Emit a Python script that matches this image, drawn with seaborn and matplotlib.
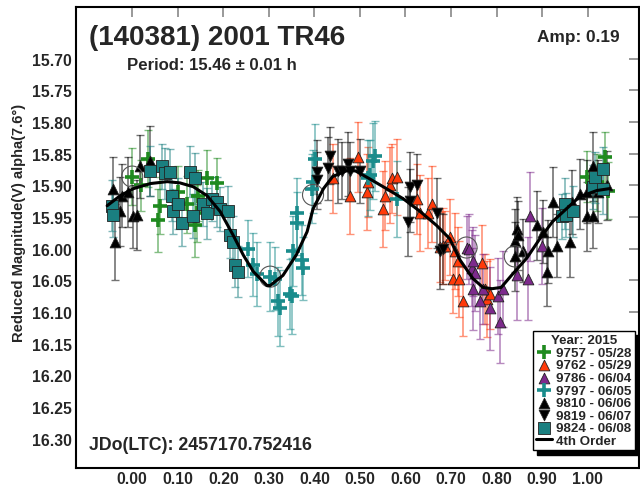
# Lightcurve of (140381) 2001 TR46 - phased reduced magnitudes with 4th order fit

import numpy as np
import pandas as pd
import seaborn as sns
import matplotlib.pyplot as plt

# --- data --------------------------------------------------------------
# 9757 - 05/28 (green plus)
ph_9757 = [0.000, 0.020, 0.035, 0.057, 0.061, 0.100, 0.120, 0.138, 0.143, 0.145,
           0.164, 0.186, 0.998, 1.020, 1.037, 1.044]
mag_9757 = [15.886, 15.900, 15.858, 15.955, 15.932, 15.910, 15.930, 15.963, 15.944, 15.916,
            15.889, 15.896, 15.886, 15.895, 15.855, 15.908]
err_9757 = [0.045, 0.040, 0.045, 0.050, 0.045, 0.040, 0.045, 0.050, 0.045, 0.040,
            0.045, 0.040, 0.040, 0.045, 0.040, 0.045]

# 9762 - 05/29 (red triangle)
ph_9762 = [0.441, 0.478, 0.496, 0.515, 0.518, 0.550, 0.555, 0.566, 0.570, 0.581,
           0.625, 0.632, 0.649, 0.658, 0.675, 0.682, 0.686, 0.697, 0.704, 0.708,
           0.715, 0.718, 0.726, 0.768, 0.774, 0.778, 0.785]
mag_9762 = [15.889, 15.916, 15.855, 15.910, 15.895, 15.937, 15.916, 15.900, 15.889, 15.886,
            15.921, 15.944, 15.944, 15.929, 15.997, 15.995, 15.995, 15.981, 16.047, 16.004,
            16.020, 16.047, 16.083, 16.023, 16.063, 16.079, 16.071]
err_9762 = [0.055, 0.060, 0.055, 0.060, 0.055, 0.060, 0.055, 0.060, 0.055, 0.060,
            0.055, 0.060, 0.055, 0.060, 0.055, 0.060, 0.055, 0.060, 0.055, 0.060,
            0.055, 0.060, 0.055, 0.060, 0.055, 0.060, 0.055]

# 9786 - 06/04 (purple triangle)
ph_9786 = [0.734, 0.740, 0.746, 0.748, 0.752, 0.748, 0.763, 0.770, 0.785, 0.803,
           0.807, 0.814, 0.844, 0.868, 0.873, 0.899]
mag_9786 = [15.998, 16.000, 16.031, 16.020, 16.039, 16.063, 16.082, 16.063, 16.094, 16.074,
            16.115, 16.063, 16.042, 16.047, 15.949, 15.995]
err_9786 = [0.050, 0.055, 0.060, 0.055, 0.060, 0.065, 0.060, 0.055, 0.065, 0.060,
            0.065, 0.060, 0.070, 0.065, 0.070, 0.060]

# 9797 - 06/05 (teal plus)
ph_9797 = [0.255, 0.265, 0.275, 0.303, 0.314, 0.320, 0.325, 0.346, 0.350, 0.353,
           0.362, 0.362, 0.373, 0.375, 0.395, 0.397, 0.401, 0.518, 0.522, 0.529,
           0.533, 0.581]
mag_9797 = [16.000, 16.025, 16.040, 16.044, 16.047, 16.083, 16.094, 16.071, 16.075, 16.004,
            15.944, 15.960, 16.018, 16.031, 15.905, 15.894, 15.858, 15.889, 15.884, 15.861,
            15.853, 15.921]
err_9797 = [0.045, 0.050, 0.050, 0.055, 0.050, 0.055, 0.060, 0.055, 0.060, 0.055,
            0.055, 0.050, 0.055, 0.050, 0.055, 0.050, 0.055, 0.060, 0.055, 0.060,
            0.055, 0.060]

# 9810 - 06/06 (black triangle)
ph_9810 = [-0.042, -0.037, -0.026, -0.022, -0.009, 0.002, 0.011, 0.018, 0.039,
           0.840, 0.840, 0.844, 0.846, 0.857, 0.888, 0.901, 0.910, 0.912, 0.923,
           0.932, 0.961, 0.965, 0.982, 0.998, 0.998, 1.011, 1.011, 1.022, 1.042]
mag_9810 = [15.905, 15.989, 15.941, 15.916, 15.910, 15.949, 15.947, 15.870, 15.861,
            15.987, 16.012, 15.968, 15.979, 16.003, 15.963, 15.973, 16.036, 16.004, 15.926,
            15.995, 15.989, 15.926, 15.913, 15.910, 15.949, 15.949, 15.870, 15.910, 15.900]
err_9810 = [0.050, 0.060, 0.055, 0.050, 0.055, 0.050, 0.055, 0.050, 0.055,
            0.050, 0.055, 0.050, 0.055, 0.050, 0.055, 0.050, 0.055, 0.050, 0.055,
            0.050, 0.055, 0.050, 0.055, 0.050, 0.055, 0.050, 0.055, 0.050, 0.055]

# 9819 - 06/07 (black down triangle)
ph_9819 = [0.406, 0.406, 0.430, 0.434, 0.452, 0.460, 0.474, 0.478, 0.500, 0.605,
           0.610, 0.610, 0.625, 0.669, 0.675, 0.682]
mag_9819 = [15.878, 15.892, 15.873, 15.853, 15.877, 15.877, 15.866, 15.877, 15.877, 15.957,
            15.924, 15.902, 15.900, 15.944, 16.003, 16.000]
err_9819 = [0.050, 0.045, 0.050, 0.045, 0.050, 0.045, 0.050, 0.045, 0.050, 0.055,
            0.050, 0.055, 0.050, 0.055, 0.060, 0.055]

# 9824 - 06/08 (teal square)
ph_9824 = [-0.044, -0.042, 0.039, 0.066, 0.072, 0.083, 0.088, 0.090, 0.101, 0.110,
           0.127, 0.134, 0.138, 0.156, 0.164, 0.175, 0.186, 0.193, 0.211, 0.215,
           0.221, 0.226, 0.232, 0.943, 0.950, 0.953, 0.967, 1.011, 1.015, 1.033, 1.033]
mag_9824 = [15.932, 15.946, 15.877, 15.870, 15.881, 15.878, 15.916, 15.941, 15.929, 15.960,
            15.878, 15.948, 15.889, 15.929, 15.944, 15.921, 15.926, 15.937, 15.941, 15.979,
            15.989, 16.026, 16.036, 15.949, 15.929, 15.947, 15.941, 15.902, 15.887, 15.874, 15.905]
err_9824 = [0.040, 0.035, 0.040, 0.035, 0.040, 0.035, 0.040, 0.035, 0.040, 0.035,
            0.040, 0.035, 0.040, 0.035, 0.040, 0.035, 0.040, 0.035, 0.040, 0.035,
            0.040, 0.035, 0.040, 0.035, 0.040, 0.035, 0.040, 0.035, 0.040, 0.035, 0.040]

# marked (circled) points
ph_mark = [0.000, 0.303, 0.397, 0.734, 0.840]
mag_mark = [15.886, 16.044, 15.915, 15.998, 16.012]

# 4th order fit
ph_fit = [-0.055, -0.026, 0.003, 0.040, 0.077, 0.105, 0.134, 0.164, 0.193, 0.222,
          0.244, 0.266, 0.296, 0.303, 0.331, 0.360, 0.384, 0.397, 0.420, 0.440,
          0.470, 0.490, 0.520, 0.558, 0.595, 0.632, 0.668, 0.697, 0.720, 0.748,
          0.770, 0.790, 0.810, 0.835, 0.866, 0.895, 0.923, 0.953, 0.982, 1.020, 1.048]
mag_fit = [15.932, 15.916, 15.905, 15.897, 15.894, 15.896, 15.902, 15.916, 15.941, 15.979,
           16.010, 16.036, 16.058, 16.058, 16.042, 16.010, 15.973, 15.937, 15.905, 15.886,
           15.877, 15.877, 15.889, 15.905, 15.921, 15.941, 15.963, 15.984, 16.018, 16.047,
           16.061, 16.063, 16.061, 16.040, 16.015, 15.984, 15.957, 15.937, 15.918, 15.908, 15.905]

series = [
    ("9757 - 05/28", ph_9757, mag_9757, err_9757, "+", "#1f8a1f", 110),
    ("9762 - 05/29", ph_9762, mag_9762, err_9762, "^", "#ff3a0a", 60),
    ("9786 - 06/04", ph_9786, mag_9786, err_9786, "^", "#7d2a8c", 60),
    ("9797 - 06/05", ph_9797, mag_9797, err_9797, "+", "#1a8c8c", 110),
    ("9810 - 06/06", ph_9810, mag_9810, err_9810, "^", "#000000", 60),
    ("9819 - 06/07", ph_9819, mag_9819, err_9819, "v", "#000000", 60),
    ("9824 - 06/08", ph_9824, mag_9824, err_9824, "s", "#1a7f80", 70),
]

# --- plot ---------------------------------------------------------------
sns.set_style("white")
plt.rcParams['font.family'] = ['Liberation Sans', 'DejaVu Sans']
plt.rcParams['font.weight'] = 'bold'

fig = plt.figure(figsize=(6.4, 4.89), dpi=100)
ax = fig.add_axes([0.119, 0.041, 0.879, 0.943])

for name, ph, mag, err, mk, col, size in series:
    ax.errorbar(ph, mag, yerr=err, fmt='none', ecolor=col, alpha=0.55,
                elinewidth=1.2, capsize=3, capthick=1.0, zorder=2)

for name, ph, mag, err, mk, col, size in series:
    df = pd.DataFrame({'phase': ph, 'mag': mag})
    if mk == '+':
        sns.scatterplot(data=df, x='phase', y='mag', marker='+', color=col, s=size,
                        linewidth=2.6, label=name, ax=ax, zorder=3)
    else:
        sns.scatterplot(data=df, x='phase', y='mag', marker=mk, color=col, s=size,
                        edgecolor='#222222', linewidth=0.6, label=name, ax=ax, zorder=3)

ax.scatter(ph_mark, mag_mark, s=230, facecolors='none', edgecolors='#555555',
           linewidths=0.8, zorder=4)

fit_df = pd.DataFrame({'phase': ph_fit, 'mag': mag_fit})
sns.lineplot(data=fit_df, x='phase', y='mag', sort=False, color='black', lw=2.2,
             label='4th Order', ax=ax, zorder=5)

ax.set_xlim(-0.123, 1.112)
ax.set_ylim(16.346, 15.618)
ax.set_xticks(np.arange(0, 1.01, 0.1))
ax.set_xticklabels([f"{v:.2f}" for v in np.arange(0, 1.01, 0.1)])
ax.set_yticks(np.arange(15.70, 16.301, 0.05))
ax.set_yticklabels([f"{v:.2f}" for v in np.arange(15.70, 16.301, 0.05)])
ax.tick_params(direction='in', length=7, width=1.2, color='#888888',
               top=True, right=True, labelsize=11.3)
ax.tick_params(axis='x', pad=2)
ax.tick_params(axis='y', pad=3)
for lab in ax.get_xticklabels() + ax.get_yticklabels():
    lab.set_fontweight('bold')
for sp in ax.spines.values():
    sp.set_color('black')
    sp.set_linewidth(1.5)

ax.set_xlabel('')
ax.set_ylabel('Reduced Magnitude(V) alpha(7.6°)', fontsize=10.6, fontweight='bold')
ax.yaxis.set_label_coords(-0.089, 0.534)

ax.text(0.022, 0.935, '(140381) 2001 TR46', transform=ax.transAxes, fontsize=20,
        fontweight='bold', va='center', ha='left')
ax.text(0.091, 0.875, 'Period: 15.46 ± 0.01 h', transform=ax.transAxes, fontsize=12.1,
        fontweight='bold', va='center', ha='left')
ax.text(0.966, 0.936, 'Amp: 0.19', transform=ax.transAxes, fontsize=12.4,
        fontweight='bold', va='center', ha='right')
ax.text(0.022, 0.051, 'JDo(LTC): 2457170.752416', transform=ax.transAxes, fontsize=12.8,
        fontweight='bold', va='center', ha='left')

leg = ax.legend(loc='lower right', bbox_to_anchor=(0.993, 0.038), title='Year: 2015',
                frameon=True, fancybox=False,
                shadow={'color': 'black', 'alpha': 1.0, 'ox': 3, 'oy': -3},
                fontsize=9.6, title_fontsize=9.6, handlelength=1.2, handletextpad=0.3,
                labelspacing=0.02, borderpad=0.25, borderaxespad=0)
leg.get_frame().set_edgecolor('black')
leg.get_frame().set_linewidth(1.0)
leg.get_title().set_fontweight('bold')
for t in leg.get_texts():
    t.set_fontweight('bold')

fig.savefig('out.png', dpi=100)
